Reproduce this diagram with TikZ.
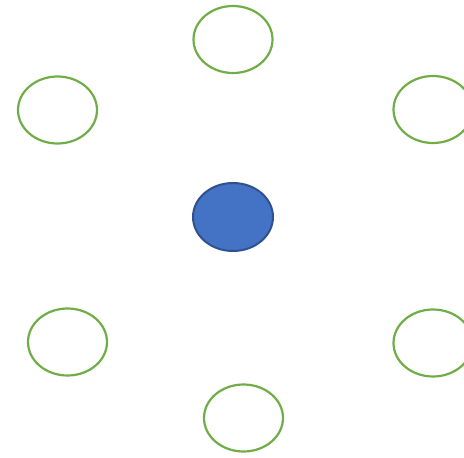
\documentclass[tikz,border=0pt]{standalone}
\usetikzlibrary{shapes.geometric}
\definecolor{ringgreen}{HTML}{70AD47}
\definecolor{hubfill}{HTML}{4472C4}
\definecolor{hubdraw}{HTML}{2F528F}
\begin{document}
\begin{tikzpicture}[x=1pt,y=-1pt,
  ring/.style={ellipse, draw=ringgreen, line width=2.2pt, fill=none, minimum width=79pt, minimum height=67pt, inner sep=0pt},
  hub/.style={ellipse, draw=hubdraw, fill=hubfill, line width=2pt, minimum width=80pt, minimum height=68pt, inner sep=0pt}]
\path[use as bounding box] (0,0) rectangle (464,458);
\clip (0,0) rectangle (464,458);
\node[hub] (c) at (233,217) {};
\node[ring] (t) at (233,39.5) {};
\node[ring] (lt) at (57.5,110) {};
\node[ring] (rt) at (433,109.5) {};
\node[ring] (lb) at (67.5,342) {};
\node[ring] (rb) at (433,343) {};
\node[ring] (b) at (243.5,418) {};
\end{tikzpicture}
\end{document}
